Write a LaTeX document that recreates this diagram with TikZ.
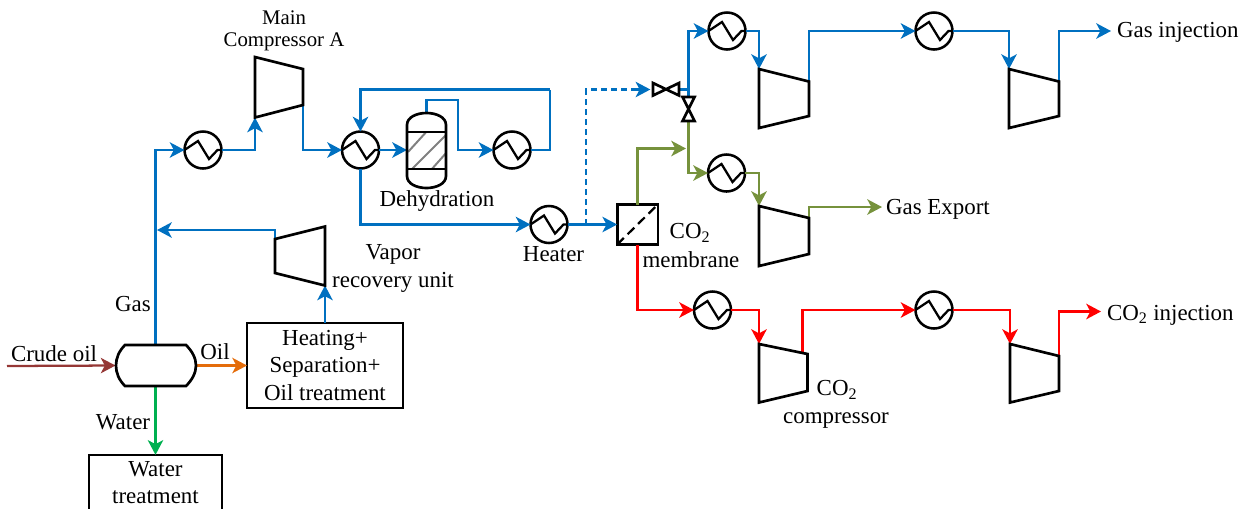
\documentclass[tikz,border=0pt]{standalone}
\usepackage{fontspec}
\setmainfont{Liberation Serif}
\usetikzlibrary{arrows.meta}
\definecolor{cblue}{HTML}{0070C0}
\definecolor{cgreen}{HTML}{76923C}
\definecolor{cred}{HTML}{FF0000}
\definecolor{cbrown}{HTML}{953735}
\definecolor{corange}{HTML}{E46C0A}
\definecolor{cwater}{HTML}{00B050}
\tikzset{
  flow/.style={line width=2.2pt,-{Stealth[length=11pt,width=11.5pt,inset=3pt]}},
  pipe/.style={line width=2.2pt},
  blue flow/.style={flow,cblue},
  blue pipe/.style={pipe,cblue},
  green flow/.style={flow,cgreen},
  red flow/.style={flow,cred},
  unit/.style={line width=2pt,black},
  hxs/.style={circle,draw,line width=1.9pt,minimum size=27.75pt,inner sep=0pt,outer sep=0pt},
  boxs/.style={draw,line width=2pt,inner sep=0pt,outer sep=0pt,align=center,font=\lab},
  anchorbox/.style={inner sep=0pt,outer sep=0pt},
  lbl/.style={inner sep=0pt,outer sep=0pt,font=\lab,align=center},
  lblsmall/.style={inner sep=0pt,outer sep=0pt,font=\labs,align=center},
  lblw/.style={lbl,anchor=west}
}
\newcommand{\lab}{\fontsize{17.2}{20.6}\selectfont}
\newcommand{\labs}{\fontsize{15.6}{18}\selectfont}
% heat exchanger: name, x, y
\newcommand{\hxr}[3]{%
  \node[hxs] (#1) at (#2,#3) {};
  \draw[line width=1.7pt] (#1.west) -- ++(13.5,-9) -- ++(11,18) -- ++(8.5,-9) -- (#1.east);
}
% compressor: name, left x, right x, y of TL, TR, BR, BL
\newcommand{\comp}[7]{%
  \coordinate (#1-tl) at (#2,#4);
  \coordinate (#1-tr) at (#3,#5);
  \coordinate (#1-br) at (#3,#6);
  \coordinate (#1-bl) at (#2,#7);
}
\newcommand{\drawcomp}[1]{\draw[unit,line join=miter] (#1-tl) -- (#1-tr) -- (#1-br) -- (#1-bl) -- cycle;}
\begin{document}
\begin{tikzpicture}[x=0.75pt,y=-0.75pt]
\clip (0,0) rectangle (1251,508);
% units
\node[anchorbox,minimum width=60pt,minimum height=31pt] (sep) at (155.5,365.5) {};
\node[boxs,minimum width=117pt,minimum height=63.75pt] (heat) at (325,365.5) {Heating+\\Separation+\\Oil treatment};
\node[boxs,minimum width=99.75pt,minimum height=41.5pt] (wat) at (155.5,482.5) {Water\\treatment};
\node[anchorbox,minimum width=29.25pt,minimum height=56.25pt] (dehy) at (426.5,150.5) {};
\node[boxs,minimum width=30.5pt,minimum height=30pt] (mem) at (637.5,224.5) {};
\node[anchorbox,minimum width=19.5pt,minimum height=9.5pt] (v1) at (666,89.5) {};
\node[anchorbox,minimum width=9pt,minimum height=18pt] (v2) at (688.5,109) {};
\comp{mc}{255}{303}{57}{69}{105}{117.5}
\comp{vru}{275}{325}{239}{226.5}{285.5}{273}
\comp{a}{759}{809}{69}{81.5}{116}{128}
\comp{b}{1009}{1059}{69}{81.5}{116}{128}
\comp{g}{759}{809}{206}{218}{254}{266}
\comp{r}{759}{807.5}{344}{354}{391}{402.5}
\comp{s}{1010}{1059}{344}{356}{391}{402.5}
\hxr{hxa}{203}{150}
\hxr{hxb}{360.5}{150}
\hxr{hxc}{512}{150}
\hxr{hxd}{549}{224.5}
\hxr{hxe}{727}{31}
\hxr{hxf}{934}{31}
\hxr{hxg}{726.5}{173}
\hxr{hxh}{712.5}{310}
\hxr{hxi}{934}{310}
% free-end coordinates
\coordinate (crude) at (7,366);
\coordinate (gasj) at (157,230);
\coordinate (dehyb) at (458,100);
\coordinate (rec) at (550,89.5);
\coordinate (dashb) at (586,224.5);
\coordinate (greenj) at (686,148.5);
\coordinate (gasinj) at (1111,31);
\coordinate (gasexp) at (882,207);
\coordinate (coinj) at (1101,311.5);
\coordinate (rout) at (802.5,352.5);
% connectors
\draw[flow,cbrown,line width=1.7pt] (crude) -- (sep.west);
\draw[flow,corange,line width=1.7pt] (sep.east) -- (heat.west);
\draw[flow,cwater,line width=1.8pt] (sep.south) -- (wat.north);
\draw[blue flow] (sep.north) |- (hxa.west);
\draw[blue flow] (vru-tl) |- (gasj);
\draw[blue flow] (heat.north) -- (vru-br);
\draw[blue flow] (hxa.east) -| (mc-bl);
\draw[blue flow] (mc-br) |- (hxb.west);
\draw[blue flow] (hxb.east) -- (dehy.west |- hxb.east);
\draw[blue flow] (dehy.north) |- (dehyb) |- (hxc.west);
\draw[blue pipe] (hxc.east) -| (rec);
\draw[blue flow] (rec) -| (hxb.north);
\draw[blue flow] (hxb.south) |- (hxd.west);
\draw[blue flow] (hxd.east) -- (mem.west);
\draw[blue pipe,dash pattern=on 4.5pt off 3pt] (dashb) |- ([xshift=-12pt]v1.west);
\draw[blue flow] ([xshift=-12pt]v1.west) -- ([xshift=-2pt]v1.west);
\draw[blue pipe] (v1.east) -- (v2.north |- v1.east);
\draw[blue flow] (v2.north) |- (hxe.west);
\draw[blue flow] (hxe.east) -| (a-tl);
\draw[blue flow] (a-tr) |- (hxf.west);
\draw[blue flow] (hxf.east) -| (b-tl);
\draw[blue flow] (b-tr) |- (gasinj);
\draw[green flow] (mem.north) |- (greenj);
\draw[green flow] (v2.south) |- (hxg.west);
\draw[green flow] (hxg.east) -| (g-tl);
\draw[green flow] (g-tr) |- (gasexp);
\draw[red flow] (mem.south) |- (hxh.west);
\draw[red flow] (hxh.east) -| (r-tl);
\draw[red flow] (rout) |- (hxi.west);
\draw[red flow] (hxi.east) -| (s-tl);
\draw[red flow] (s-tr) |- (coinj);
% separator outline
\draw[unit] (125,345) -- (186,345) .. controls (192,351) and (196,358) .. (196,365.5) .. controls (196,373) and (192,380) .. (186,386) -- (125,386) .. controls (119,380) and (116,373) .. (116,365.5) .. controls (116,358) and (119,351) .. (125,345) -- cycle;
% compressors
\drawcomp{mc}\drawcomp{vru}\drawcomp{a}\drawcomp{b}\drawcomp{g}\drawcomp{r}\drawcomp{s}
% dehydration column
\begin{scope}
\clip (407,132) rectangle (446,169);
\draw[gray,line width=1.5pt] (408,152) -- (428,130);
\draw[gray,line width=1.5pt] (411,170) -- (447,134);
\draw[gray,line width=1.5pt] (431,170) -- (447,152);
\end{scope}
\draw[unit] (407,132) -- (407,125) .. controls (407,117) and (417,113) .. (426.5,113) .. controls (436,113) and (446,117) .. (446,125) -- (446,176) .. controls (446,184) and (436,188) .. (426.5,188) .. controls (417,188) and (407,184) .. (407,176) -- cycle;
\draw[unit] (407,132) -- (446,132) (407,169) -- (446,169);
% membrane diagonal
\draw[line width=1.7pt,dash pattern=on 7pt off 4pt] (mem.south west) -- (mem.north east);
% valves
\draw[unit,line join=miter] (653,83) -- (679,95.5) -- (679,83) -- (653,95.5) -- cycle;
\draw[unit,line join=miter] (682.5,97) -- (694.5,121) -- (682.5,121) -- (694.5,97) -- cycle;
% labels
\node[lblsmall] (t1) at (284,18) {Main};
\node[lblsmall] (t2) at (284,42) {Compressor A};
\node[lbl] (t3) at (393,254) {Vapor};
\node[lbl] (t4) at (393,282) {recovery unit};
\node[lbl] (t5) at (133,304) {Gas};
\node[lbl] (t6) at (54,354) {Crude oil};
\node[lbl] (t7) at (215,352) {Oil};
\node[lbl] (t8) at (123,422) {Water};
\node[lbl] (t9) at (437,201) {Dehydration};
\node[lbl] (t10) at (553.5,254) {Heater};
\node[lbl] (t11) at (690,233) {CO\textsubscript{2}};
\node[lbl] (t12) at (691,260) {membrane};
\node[lbl] (t13) at (837,390) {CO\textsubscript{2}};
\node[lbl] (t14) at (836,421) {compressor};
\node[lblw] (t15) at (1117,32) {Gas injection};
\node[lblw] (t16) at (886,209) {Gas Export};
\node[lblw] (t17) at (1107,315) {CO\textsubscript{2} injection};
\end{tikzpicture}
\end{document}
